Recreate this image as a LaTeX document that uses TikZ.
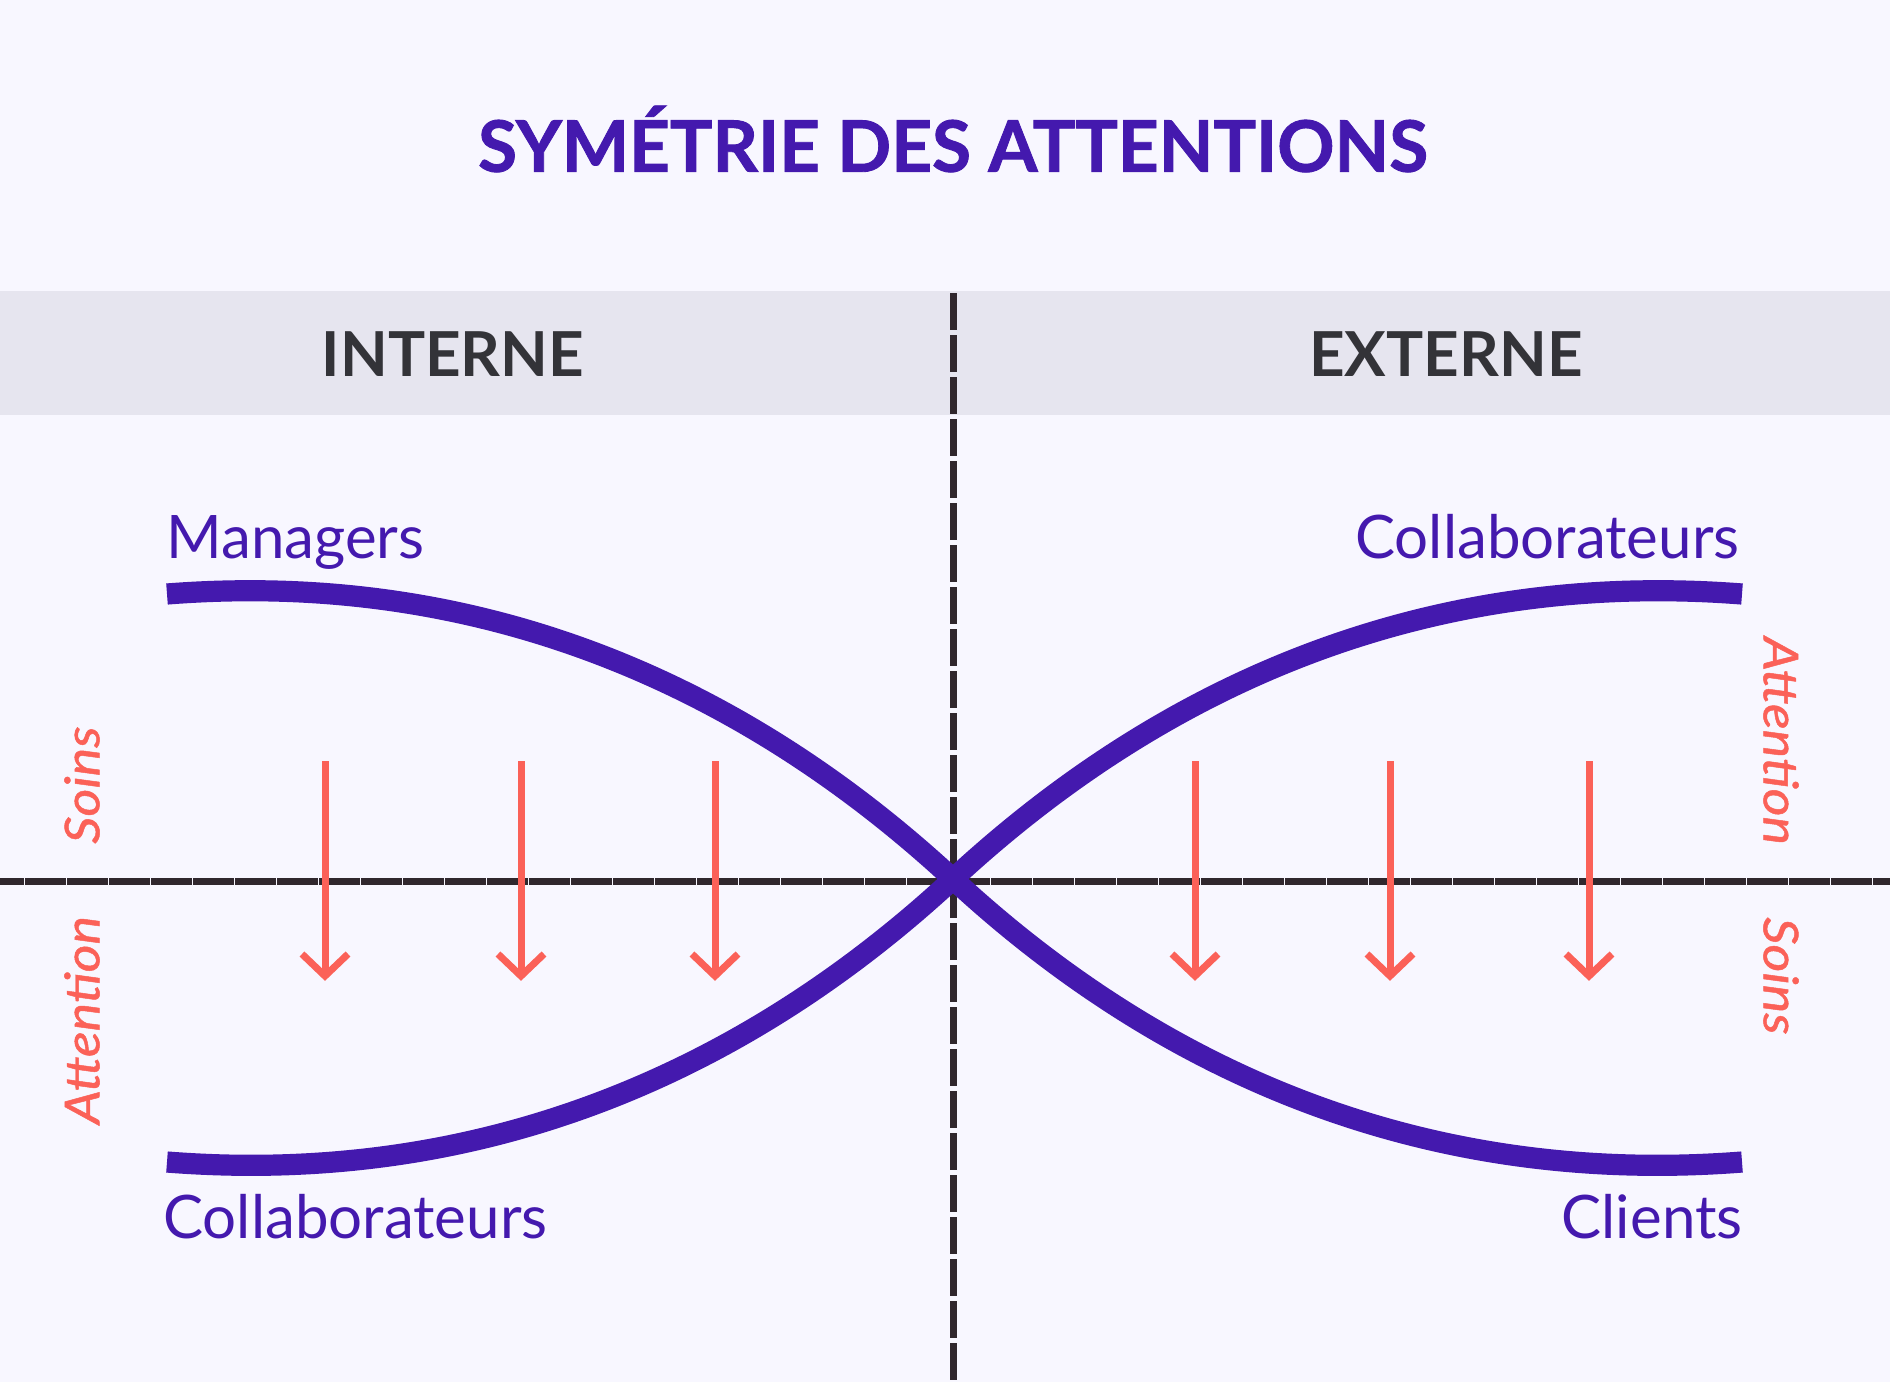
\documentclass[tikz,border=0pt]{standalone}
\usepackage{fontspec}
\setmainfont{Lato}
\newfontfamily\sidefont[ItalicFeatures={FakeStretch=1.12,FakeBold=1}]{Lato}
\newfontfamily\titlefont[BoldFeatures={FakeBold=1.2}]{Lato}
\definecolor{bgc}{HTML}{F8F7FF}
\definecolor{band}{HTML}{E6E5EF}
\definecolor{violet}{HTML}{4419AE}
\definecolor{coral}{HTML}{FB6158}
\definecolor{axisc}{HTML}{30272D}
\definecolor{headc}{HTML}{333338}
\tikzset{
  x=0.5pt,y=-0.5pt,
  curvel/.style={draw=violet,line width=10.6pt},
  axisl/.style={draw=axisc,line width=3.5pt},
  arrowl/.style={draw=coral,line width=3.5pt,line join=miter},
  lab/.style={text=violet,font=\fontsize{30}{32}\selectfont,inner sep=0pt},
  side/.style={text=coral,font=\sidefont\fontsize{24}{26}\selectfont\itshape,inner sep=0pt},
  head/.style={text=headc,font=\fontsize{31}{34}\selectfont\bfseries,inner sep=0pt},
}
\begin{document}
\begin{tikzpicture}
\useasboundingbox (0,0) rectangle (1890,1382);
\fill[bgc] (0,0) rectangle (1890,1382);
\fill[band] (0,291) rectangle (1890,415);
\node[text=violet,font=\titlefont\fontsize{35.5}{38}\selectfont\bfseries,inner sep=0pt] (title) at (953,139) {SYMÉTRIE DES ATTENTIONS};
\node[head] (int) at (453,354) {INTERNE};
\node[head] (ext) at (1446,354) {EXTERNE};
\coordinate (vt) at (953,293); \coordinate (vb) at (953,1382);
\coordinate (hl) at (-17,881); \coordinate (hr) at (1910,881);
\draw[axisl,dash pattern=on 18.5pt off 2.5pt] (vt) -- (vb);
\draw[axisl,dash pattern=on 20.4pt off 0.6pt] (hl) -- (hr);
\coordinate (tl) at (167,594); \coordinate (br) at (1742,1162);
\coordinate (tr) at (1742,594); \coordinate (bl) at (167,1162);
\coordinate (mid) at (953,879);
\draw[curvel] (tl) .. controls (500,568) and (760,700) .. (mid) .. controls (1146,1058) and (1406,1188) .. (br);
\draw[curvel] (bl) .. controls (500,1188) and (760,1058) .. (mid) .. controls (1146,700) and (1406,568) .. (tr);
\foreach \n/\x in {a/325,b/521,c/715,d/1195,e/1390,f/1589}{
  \coordinate (\n1) at (\x,761); \coordinate (\n2) at (\x,976);
  \coordinate (\n3) at (\x-23,954); \coordinate (\n4) at (\x+23,954);
  \draw[arrowl] (\n1) -- (\n2);
  \draw[arrowl] (\n3) -- (\n2) -- (\n4);
}
\node[lab,anchor=base west] (m) at (166,558) {Managers};
\node[lab,anchor=base east] (c1) at (1740,558) {Collaborateurs};
\node[lab,anchor=base west] (c2) at (163,1238) {Collaborateurs};
\node[lab,anchor=base east] (cl) at (1743,1238) {Clients};
\node[side,rotate=90] (s1) at (82,785) {Soins};
\node[side,rotate=90] (a1) at (82,1020) {Attention};
\node[side,rotate=-90] (a2) at (1781,741) {Attention};
\node[side,rotate=-90] (s2) at (1781,976) {Soins};
\end{tikzpicture}
\end{document}
